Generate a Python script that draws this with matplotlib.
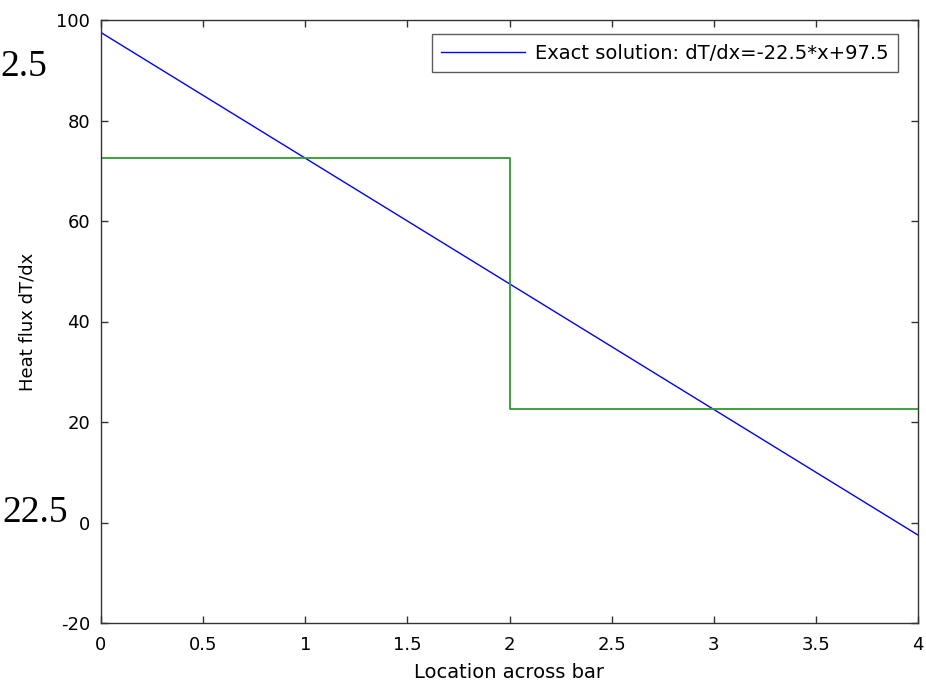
import matplotlib.pyplot as plt

# exact solution (straight line)
exact_x = [0.0, 4.0]
exact_y = [97.5, -2.5]

# piecewise constant approximation
step_x = [0.0, 2.0, 2.0, 4.0]
step_y = [72.5, 72.5, 22.5, 22.5]

x_ticks = [0, 0.5, 1, 1.5, 2, 2.5, 3, 3.5, 4]
x_tick_labels = ['0', '0.5', '1', '1.5', '2', '2.5', '3', '3.5', '4']
y_ticks = [-20, 0, 20, 40, 60, 80, 100]

side_labels = ['2.5', '22.5']

plt.rcParams['font.family'] = ['DejaVu Sans']
plt.rcParams['axes.unicode_minus'] = False

fig = plt.figure(figsize=(9.26, 6.82), dpi=100)
ax = fig.add_axes([101 / 926, 59 / 682, 817 / 926, 603 / 682])

ax.plot(exact_x, exact_y, color='#0000ff', lw=1.0,
        label='Exact solution: dT/dx=-22.5*x+97.5')
ax.plot(step_x, step_y, color='#2f9a2f', lw=1.3)

ax.set_xlim(0, 4)
ax.set_ylim(-20, 100)
ax.set_xticks(x_ticks)
ax.set_xticklabels(x_tick_labels)
ax.set_yticks(y_ticks)
ax.tick_params(direction='in', length=5, width=1, top=True, right=True,
               labelsize=13, colors='#333333', labelcolor='black')
ax.tick_params(axis='y', pad=8)
ax.tick_params(axis='x', pad=9)
for s in ax.spines.values():
    s.set_color('#333333')
    s.set_linewidth(1.0)

ax.set_xlabel('Location across bar', fontsize=14, labelpad=7)
ax.set_ylabel('Heat flux dT/dx', fontsize=13, labelpad=14)

leg = ax.legend(loc='upper right', bbox_to_anchor=(0.9755, 0.977), borderaxespad=0,
                fontsize=14, frameon=True, fancybox=False, handlelength=4.3,
                handletextpad=0.5, borderpad=0.5)
leg.get_frame().set_edgecolor('#333333')
leg.get_frame().set_linewidth(1.0)

# stray value labels on the left edge
fig.text(0.5 / 926, 1 - 76 / 682, side_labels[0], ha='left', va='baseline',
         fontsize=27, family='Liberation Serif')
fig.text(2 / 926, 1 - 522 / 682, side_labels[1], ha='left', va='baseline',
         fontsize=27, family='Liberation Serif')

fig.savefig('out.png', dpi=100)
